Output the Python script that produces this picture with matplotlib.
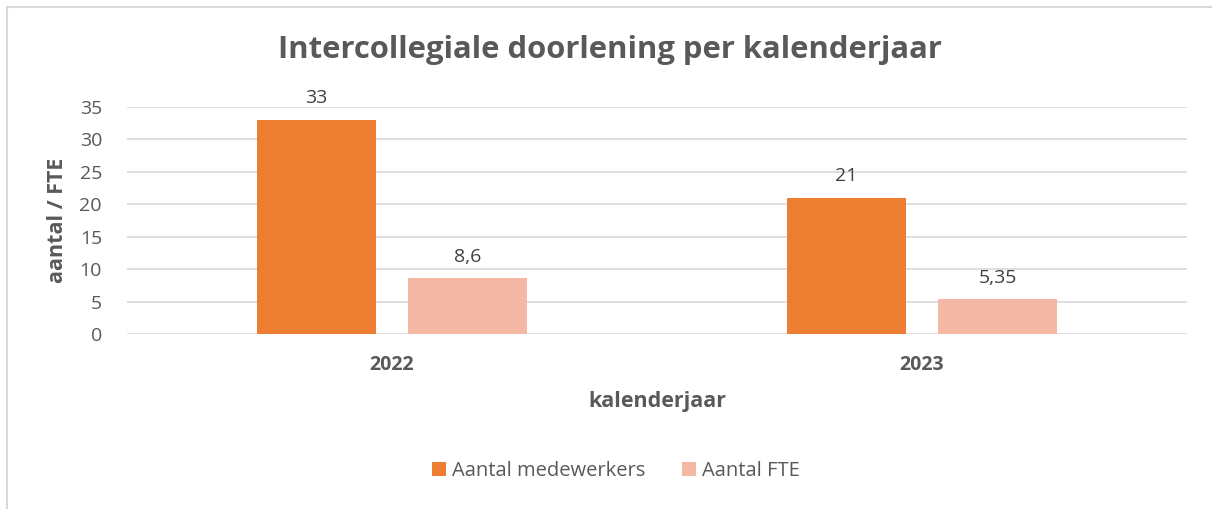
import matplotlib.pyplot as plt
from matplotlib.patches import Rectangle
import numpy as np

# gegevens
jaren = ['2022', '2023']
medewerkers = [33, 21]
fte = [8.6, 5.35]
labels_medewerkers = ['33', '21']
labels_fte = ['8,6', '5,35']

plt.rcParams['font.family'] = ['Open Sans', 'DejaVu Sans']

fig = plt.figure(figsize=(12.12, 5.09), dpi=100)
ax = fig.add_axes([127/1212, 1 - 334/509, 1060/1212, 227/509])

# rand van de grafiek
fig.patches.append(Rectangle((7/1212, -0.1), 1.2, 1 - 7/509 + 0.1,
                             transform=fig.transFigure, fill=False,
                             edgecolor='#d9d9d9', linewidth=1.5))

x = np.arange(len(jaren))
w = 0.223
off = 0.1425
b1 = ax.bar(x - off, medewerkers, w, color='#ED7D31', label='Aantal medewerkers', zorder=3)
b2 = ax.bar(x + off, fte, w, color='#F4B8A4', label='Aantal FTE', zorder=3)

for bars, labs in ((b1, labels_medewerkers), (b2, labels_fte)):
    for r, t in zip(bars, labs):
        ax.annotate(t, (r.get_x() + r.get_width()/2, r.get_height()),
                    xytext=(0, 9), textcoords='offset points',
                    ha='center', va='bottom', fontsize=14, color='#404040')

ax.set_xlim(-0.5, 1.5)
ax.set_ylim(0, 35)
ax.set_yticks(range(0, 36, 5))
ax.set_xticks(x)
ax.set_xticklabels(jaren, fontweight='bold', fontsize=14)
ax.tick_params(axis='both', length=0, labelsize=14, colors='#595959')
ax.tick_params(axis='x', pad=15)
ax.tick_params(axis='y', pad=18)
ax.grid(axis='y', color='#d9d9d9', linewidth=1.2, zorder=0)
for s in ax.spines.values():
    s.set_visible(False)

ax.set_xlabel('kalenderjaar', fontsize=15.5, fontweight='bold', color='#595959', labelpad=12)
ax.set_ylabel('aantal / FTE', fontsize=15.5, fontweight='bold', color='#595959', labelpad=8)

fig.text(610/1212, 1 - 50/509, 'Intercollegiale doorlening per kalenderjaar',
         ha='center', va='center', fontsize=22.3, fontweight='bold', color='#595959')

ax.legend(loc='center', bbox_to_anchor=(616/1212, 1 - 471/509), bbox_transform=fig.transFigure,
          ncol=2, frameon=False, fontsize=14.5, labelcolor='#595959',
          handlelength=0.7, handleheight=0.7, handletextpad=0.3, columnspacing=1.8)

fig.savefig('out.png', dpi=100)
